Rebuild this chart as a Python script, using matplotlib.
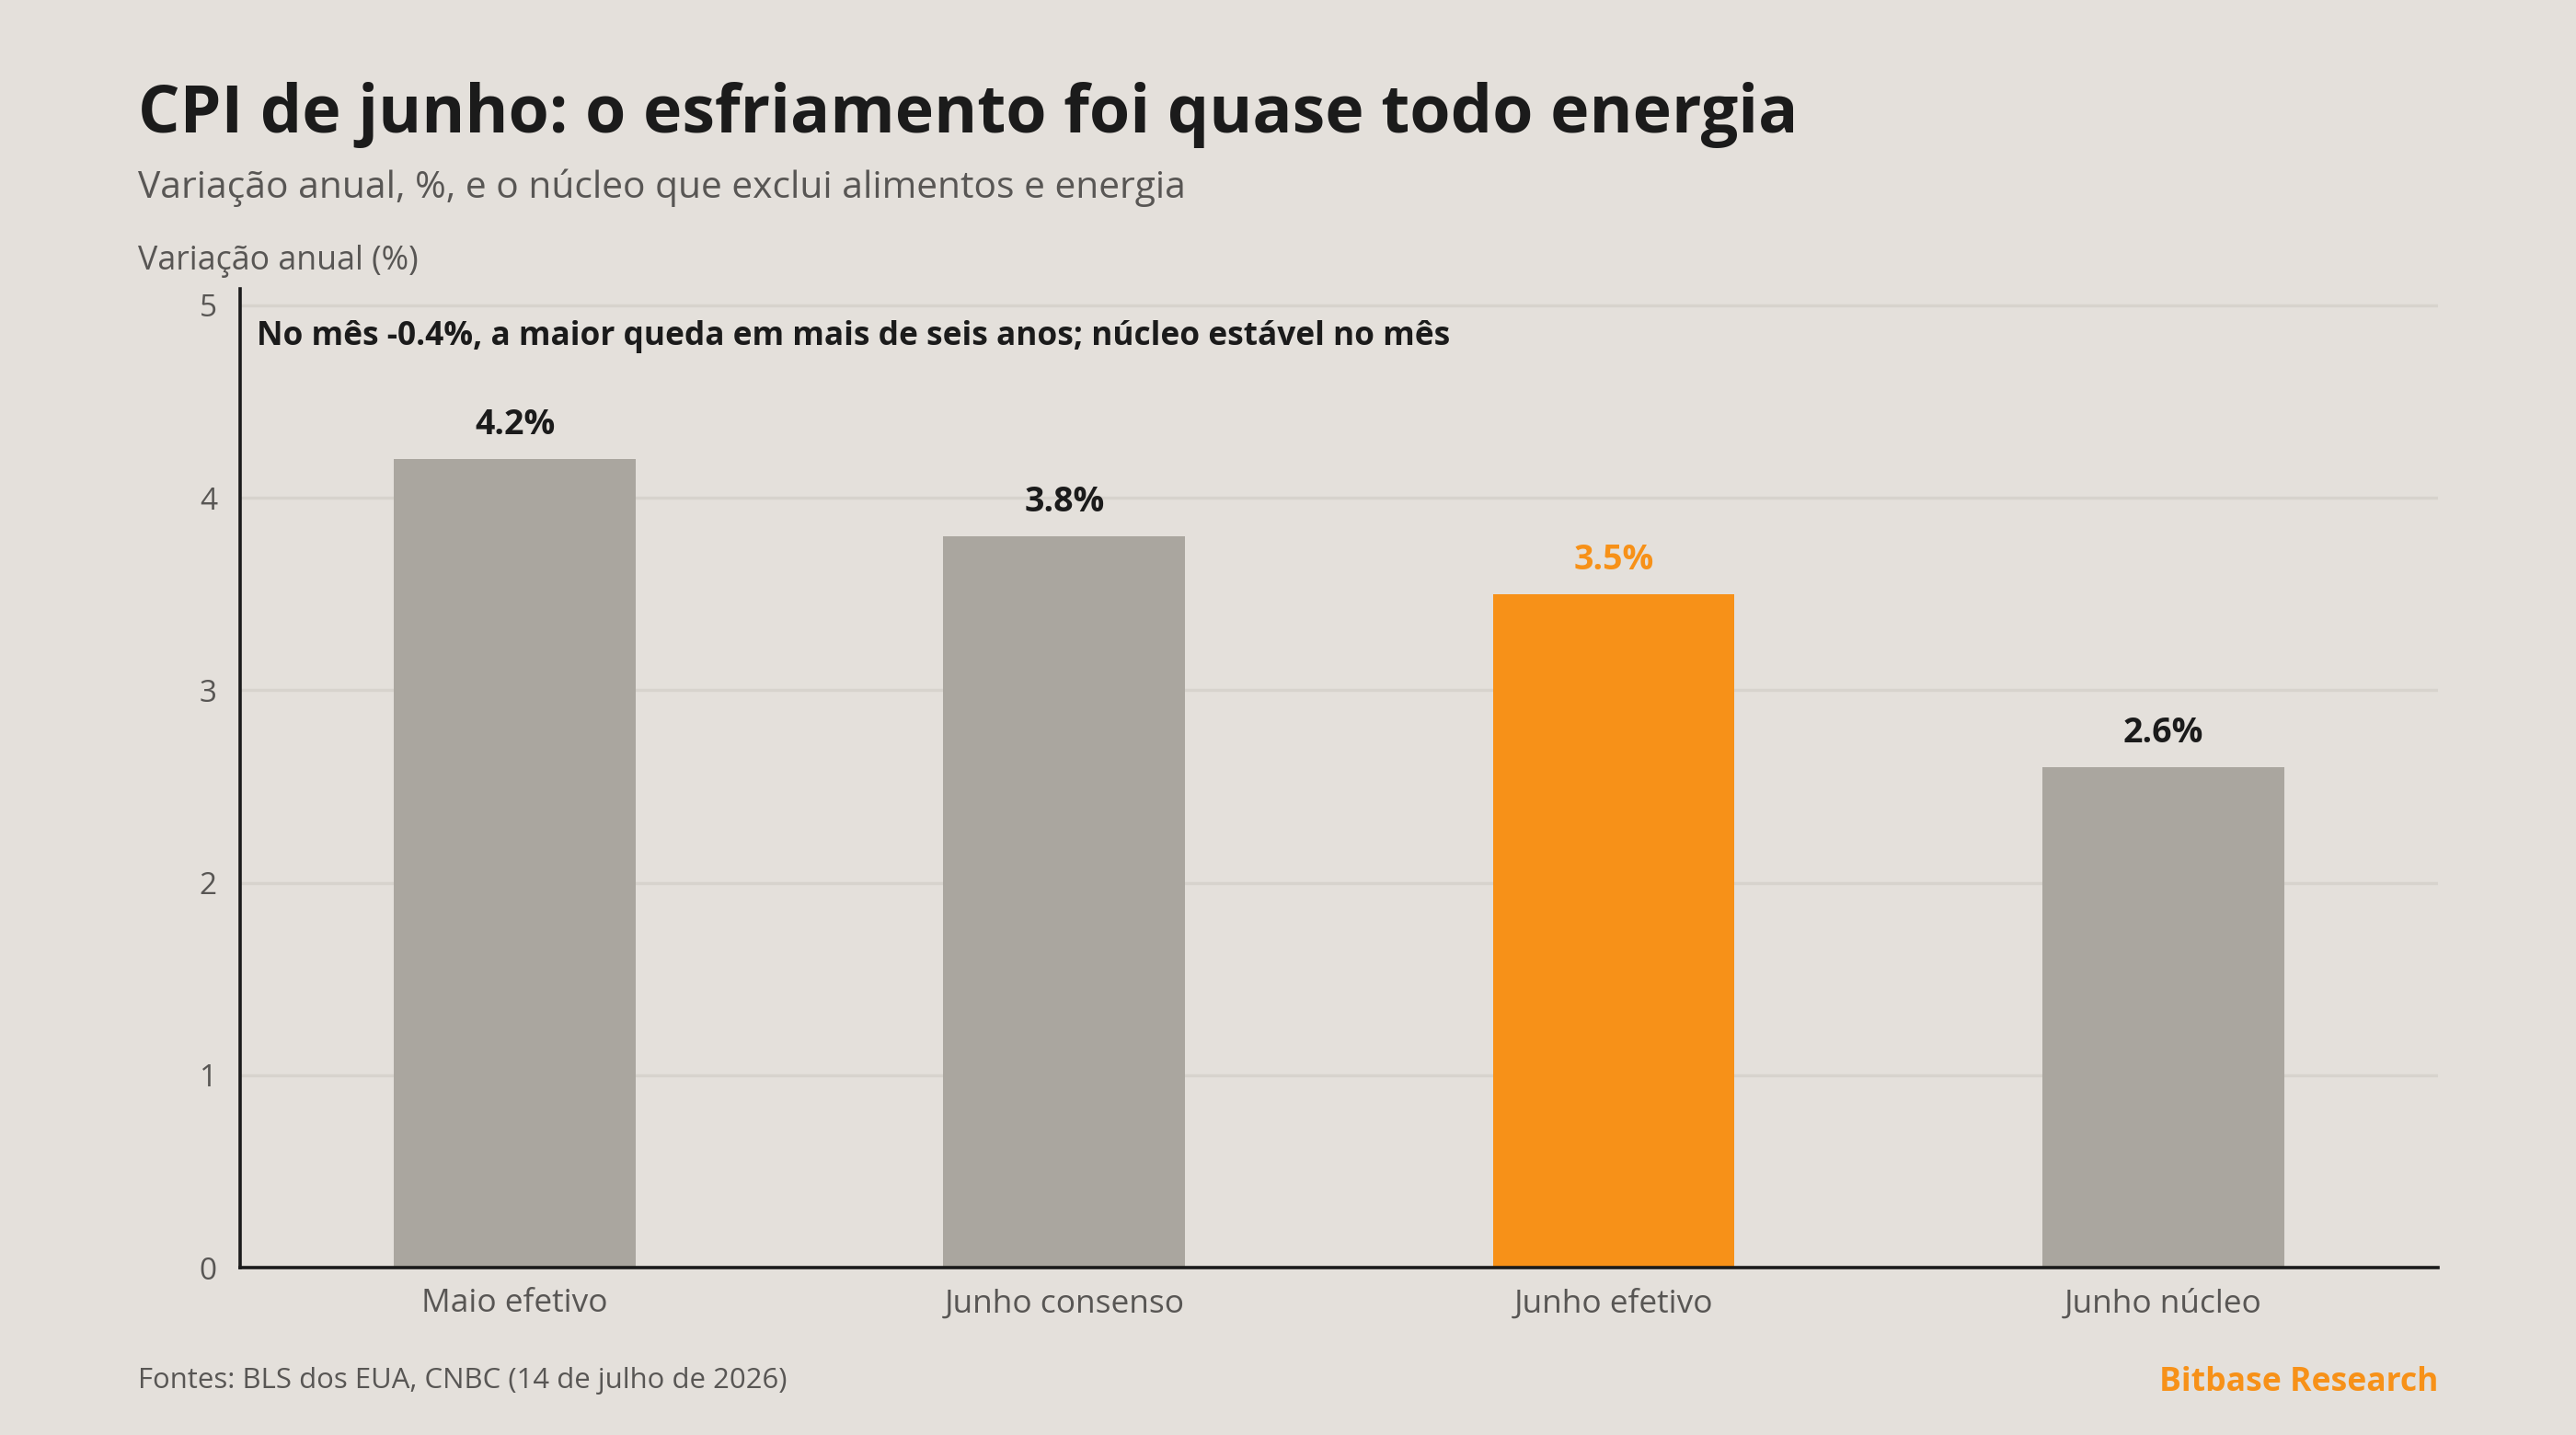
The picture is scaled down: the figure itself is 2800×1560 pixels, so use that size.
import matplotlib
matplotlib.use('Agg')
from matplotlib import pyplot as plt

# dados
categories = ['Maio efetivo', 'Junho consenso', 'Junho efetivo', 'Junho núcleo']
values = [4.2, 3.8, 3.5, 2.6]
highlight = 'Junho efetivo'
y_ticks = [0, 1, 2, 3, 4, 5]

title = 'CPI de junho: o esfriamento foi quase todo energia'
subtitle = 'Variação anual, %, e o núcleo que exclui alimentos e energia'
y_label = 'Variação anual (%)'
note = 'No mês -0.4%, a maior queda em mais de seis anos; núcleo estável no mês'
source = 'Fontes: BLS dos EUA, CNBC (14 de julho de 2026)'
brand = 'Bitbase Research'

BG = '#e4e0db'
GREY = '#aaa69f'
ORANGE = '#f79118'
DARK = '#1b1b1b'
MUTED = '#585654'
GRID = '#d7d3cd'

plt.rcParams['font.family'] = ['Open Sans', 'DejaVu Sans']

fig = plt.figure(figsize=(14, 7.8), dpi=200, facecolor=BG)
ax = fig.add_axes([0.0932, 0.1166, 0.8532, 0.6821], facecolor=BG)

colors = [ORANGE if c == highlight else GREY for c in categories]
x = range(len(categories))
bars = ax.bar(x, values, width=0.44, color=colors, zorder=3)

for b, v, c in zip(bars, values, colors):
    ax.annotate('{:.1f}%'.format(v), (b.get_x() + b.get_width() / 2, v),
                xytext=(0, 6.5), textcoords='offset points', ha='center', va='bottom',
                fontsize=13.5, fontweight='bold',
                color=ORANGE if c == ORANGE else DARK)

ax.set_xlim(-0.5, 3.5)
ax.set_ylim(0, 5.085)
ax.set_yticks(y_ticks)
ax.set_xticks(list(x))
ax.set_xticklabels(categories)
ax.tick_params(axis='both', length=0, colors=MUTED)
ax.tick_params(axis='y', pad=9, labelsize=12)
ax.tick_params(axis='x', pad=8, labelsize=12.7)
ax.yaxis.grid(True, color=GRID, lw=1.2, zorder=0)
ax.xaxis.grid(False)
for s in ['top', 'right']:
    ax.spines[s].set_visible(False)
for s in ['left', 'bottom']:
    ax.spines[s].set_color(DARK)
    ax.spines[s].set_linewidth(1.3)
    ax.spines[s].set_zorder(4)

ax.text(0.0075, 0.951, note, transform=ax.transAxes, ha='left', va='center',
        fontsize=12.7, fontweight='bold', color=DARK)

fig.text(0.0536, 0.908, title, ha='left', va='baseline', fontsize=25.8,
         fontweight='bold', color=DARK)
fig.text(0.0536, 0.862, subtitle, ha='left', va='baseline', fontsize=14.7, color=MUTED)
fig.text(0.0536, 0.812, y_label, ha='left', va='baseline', fontsize=12.9, color=MUTED)
fig.text(0.0536, 0.033, source, ha='left', va='baseline', fontsize=11.2, color=MUTED)
fig.text(0.9464, 0.031, brand, ha='right', va='baseline', fontsize=12.8,
         fontweight='bold', color=ORANGE)

fig.savefig('out.png', dpi=200, facecolor=BG)
